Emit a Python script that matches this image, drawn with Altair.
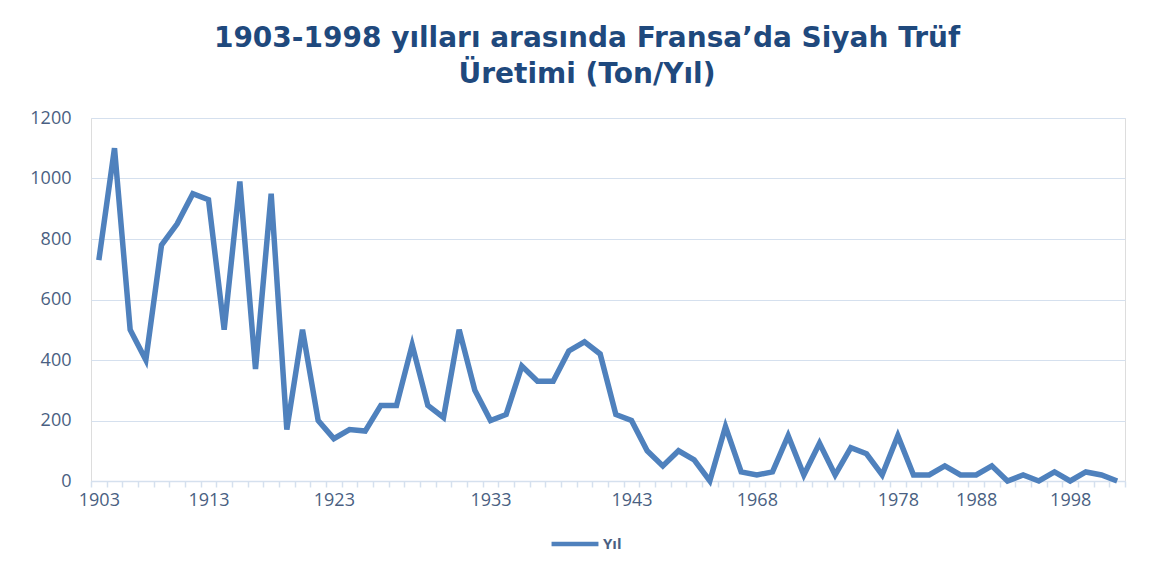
import altair as alt
import pandas as pd

values = [730, 1100, 500, 400, 780, 850, 950, 930, 500, 990, 370, 950,
          170, 500, 200, 140, 170, 165, 250, 250, 450, 250, 210, 500,
          300, 200, 220, 380, 330, 330, 430, 460, 420, 220, 200, 100,
          50, 100, 70, 0, 180, 30, 20, 30, 150, 20, 125, 20,
          110, 90, 20, 150, 20, 20, 50, 20, 20, 50, 0, 20,
          0, 30, 0, 30, 20, 0]
label_idx = [0, 7, 15, 25, 34, 42, 51, 56, 62]
label_years = ["1903", "1913", "1923", "1933", "1943", "1968", "1978", "1988", "1998"]
y_ticks = [0, 200, 400, 600, 800, 1000, 1200]
series_name = "Yıl"
title_lines = ["1903-1998 yılları arasında Fransa’da Siyah Trüf", "Üretimi (Ton/Yıl)"]

n = len(values)
df = pd.DataFrame({"idx": list(range(n)), "value": values, "seri": [series_name] * n})

boundaries = [i - 0.5 for i in range(n + 1)]
idx_arr = "[" + ",".join(str(i) for i in label_idx) + "]"
yr_arr = "[" + ",".join("'" + y + "'" for y in label_years) + "]"
label_expr = f"indexof({idx_arr}, datum.value) >= 0 ? {yr_arr}[indexof({idx_arr}, datum.value)] : ''"

axis_col = "#D5E0EE"
text_col = "#4A5F82"

chart = alt.Chart(df).mark_line(strokeWidth=5.5).encode(
    x=alt.X("idx:Q",
            scale=alt.Scale(domain=[-0.5, n - 0.5], nice=False, zero=False),
            axis=alt.Axis(values=label_idx + boundaries, labelExpr=label_expr, title=None,
                          grid=False, domainColor=axis_col, domainWidth=1.5,
                          tickColor=axis_col, tickSize=6, tickWidth=1.5,
                          tickOpacity={"condition": {"test": "datum.value % 1 == 0", "value": 0}, "value": 1},
                          labelFont="Open Sans", labelFontSize=18, labelColor=text_col,
                          labelPadding=4, labelOverlap=False, labelFlush=False)),
    y=alt.Y("value:Q",
            scale=alt.Scale(domain=[0, 1200], nice=False),
            axis=alt.Axis(values=y_ticks, format="d", title=None, domain=False, ticks=False,
                          gridColor=axis_col, gridWidth=1.2,
                          labelFont="Open Sans", labelFontSize=18, labelColor=text_col,
                          labelPadding=20)),
    color=alt.Color("seri:N", scale=alt.Scale(range=["#4F81BD"]),
                    legend=alt.Legend(title=None, orient="none", legendX=458, legendY=400,
                                      symbolType="stroke", symbolStrokeWidth=4.5,
                                      symbolSize=2200, labelFont="Open Sans",
                                      labelFontSize=15, labelColor=text_col,
                                      labelFontWeight="bold", labelOffset=2)),
).properties(
    width=1034,
    height=363,
    padding={"left": 83, "top": 110, "right": 28, "bottom": 80},
    autosize=alt.AutoSizeParams(type="none"),
    title=alt.Title(title_lines, anchor="middle", dx=-21, offset=20,
                    font="DejaVu Sans", fontSize=28, fontWeight="bold",
                    color="#1F497D", lineHeight=36),
).configure_view(stroke=None).configure(background="white")

chart.save("out.html", embed_options={"renderer": "svg", "actions": False})
